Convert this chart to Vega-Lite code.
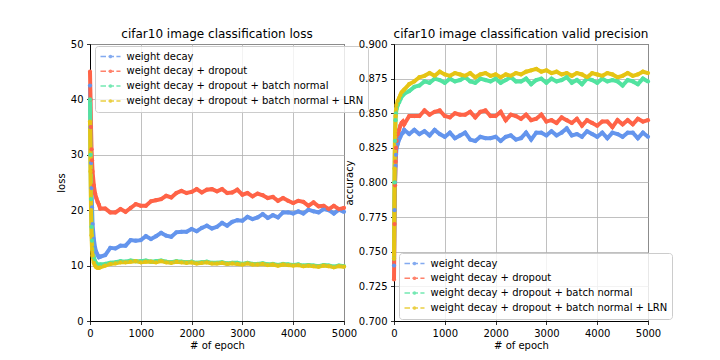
{
  "$schema": "https://vega.github.io/schema/vega-lite/v6.json",
  "background": "white",
  "padding": {"left": 55, "top": 27, "right": 5, "bottom": 5},
  "config": {
    "font": "DejaVu Sans",
    "view": {"stroke": "black", "strokeWidth": 1},
    "axis": {"domainColor": "black", "domainWidth": 1, "tickColor": "black", "tickSize": 3.5, "tickWidth": 0.8, "labelColor": "black", "labelFont": "DejaVu Sans", "labelFontSize": 10, "labelPadding": 3.5, "labelFlush": false, "labelOverlap": false, "titleFont": "DejaVu Sans", "titleFontSize": 10, "titleFontWeight": "normal", "titleColor": "black", "titlePadding": 4, "gridColor": "#b0b0b0", "gridWidth": 0.8},
    "axisX": {"titlePadding": 2},
    "title": {"font": "DejaVu Sans", "fontSize": 12, "fontWeight": "normal", "color": "black", "offset": -2, "anchor": "middle"},
    "legend": {"orient": "none", "title": null, "fillColor": "rgba(255,255,255,0.8)", "strokeColor": "#cccccc", "cornerRadius": 3, "padding": 4.5, "labelFont": "DejaVu Sans", "labelFontSize": 10, "labelColor": "black", "labelLimit": 400, "symbolType": "M-1,0H-0.45M-0.21,0H0.35M0.59,0H1M-0.1,0A0.1,0.1 0 1,0 0.1,0A0.1,0.1 0 1,0 -0.1,0", "symbolSize": 400, "symbolStrokeWidth": 1.5, "symbolOpacity": 0.8, "clipHeight": 12, "rowPadding": 2.8, "labelOffset": 5}
  },
  "hconcat": [
    {
      "width": 254, "height": 277,
      "title": "cifar10 image classification loss",
      "data": {"values": [
        {"s":"a","x":0,"y":42.5},{"s":"a","x":10,"y":35},{"s":"a","x":20,"y":28.5},{"s":"a","x":30,"y":24},{"s":"a","x":40,"y":20.5},{"s":"a","x":50,"y":17.5},{"s":"a","x":75,"y":14.8},{"s":"a","x":100,"y":13.2},{"s":"a","x":125,"y":12.4},{"s":"a","x":150,"y":11.9},{"s":"a","x":175,"y":11.5},
        {"s":"a","x":200,"y":11.6},{"s":"a","x":300,"y":11.9},{"s":"a","x":400,"y":13.2},{"s":"a","x":500,"y":13.1},{"s":"a","x":600,"y":13.6},{"s":"a","x":700,"y":13.6},{"s":"a","x":800,"y":14.6},{"s":"a","x":900,"y":14.5},{"s":"a","x":1000,"y":14.6},{"s":"a","x":1100,"y":15.3},{"s":"a","x":1200,"y":14.8},{"s":"a","x":1300,"y":15.3},{"s":"a","x":1400,"y":15.9},{"s":"a","x":1500,"y":15.4},{"s":"a","x":1600,"y":15.2},{"s":"a","x":1700,"y":16.0},{"s":"a","x":1800,"y":16.1},{"s":"a","x":1900,"y":16.1},{"s":"a","x":2000,"y":16.6},{"s":"a","x":2100,"y":16.2},{"s":"a","x":2200,"y":16.8},{"s":"a","x":2300,"y":17.2},{"s":"a","x":2400,"y":16.7},{"s":"a","x":2500,"y":17.0},{"s":"a","x":2600,"y":17.7},{"s":"a","x":2700,"y":17.2},{"s":"a","x":2800,"y":17.9},{"s":"a","x":2900,"y":18.2},{"s":"a","x":3000,"y":18.1},{"s":"a","x":3100,"y":18.8},{"s":"a","x":3200,"y":18.4},{"s":"a","x":3300,"y":18.7},{"s":"a","x":3400,"y":19.3},{"s":"a","x":3500,"y":18.6},{"s":"a","x":3600,"y":19.1},{"s":"a","x":3700,"y":18.7},{"s":"a","x":3800,"y":19.6},{"s":"a","x":3900,"y":19.6},{"s":"a","x":4000,"y":19.4},{"s":"a","x":4100,"y":19.8},{"s":"a","x":4200,"y":19.4},{"s":"a","x":4300,"y":20.1},{"s":"a","x":4400,"y":19.8},{"s":"a","x":4500,"y":19.6},{"s":"a","x":4600,"y":20.2},{"s":"a","x":4700,"y":20.0},{"s":"a","x":4800,"y":19.4},{"s":"a","x":4900,"y":20.1},{"s":"a","x":5000,"y":19.7},
        {"s":"b","x":0,"y":45},{"s":"b","x":10,"y":40},{"s":"b","x":20,"y":35},{"s":"b","x":30,"y":31},{"s":"b","x":40,"y":29},{"s":"b","x":50,"y":27},{"s":"b","x":75,"y":24.5},{"s":"b","x":100,"y":23},{"s":"b","x":125,"y":22.2},{"s":"b","x":150,"y":21.5},{"s":"b","x":175,"y":21.0},
        {"s":"b","x":200,"y":20.3},{"s":"b","x":300,"y":20.3},{"s":"b","x":400,"y":19.6},{"s":"b","x":500,"y":19.6},{"s":"b","x":600,"y":20.2},{"s":"b","x":700,"y":19.7},{"s":"b","x":800,"y":20.4},{"s":"b","x":900,"y":21.1},{"s":"b","x":1000,"y":20.8},{"s":"b","x":1100,"y":20.8},{"s":"b","x":1200,"y":21.6},{"s":"b","x":1300,"y":21.8},{"s":"b","x":1400,"y":22.0},{"s":"b","x":1500,"y":22.6},{"s":"b","x":1600,"y":22.3},{"s":"b","x":1700,"y":23.1},{"s":"b","x":1800,"y":23.5},{"s":"b","x":1900,"y":23.1},{"s":"b","x":2000,"y":23.3},{"s":"b","x":2100,"y":23.8},{"s":"b","x":2200,"y":23.2},{"s":"b","x":2300,"y":23.7},{"s":"b","x":2400,"y":23.8},{"s":"b","x":2500,"y":23.4},{"s":"b","x":2600,"y":23.8},{"s":"b","x":2700,"y":23.1},{"s":"b","x":2800,"y":23.2},{"s":"b","x":2900,"y":23.7},{"s":"b","x":3000,"y":22.8},{"s":"b","x":3100,"y":23.1},{"s":"b","x":3200,"y":22.5},{"s":"b","x":3300,"y":23.0},{"s":"b","x":3400,"y":22.7},{"s":"b","x":3500,"y":22.2},{"s":"b","x":3600,"y":22.4},{"s":"b","x":3700,"y":21.7},{"s":"b","x":3800,"y":22.2},{"s":"b","x":3900,"y":21.7},{"s":"b","x":4000,"y":21.3},{"s":"b","x":4100,"y":21.7},{"s":"b","x":4200,"y":21.5},{"s":"b","x":4300,"y":20.8},{"s":"b","x":4400,"y":21.4},{"s":"b","x":4500,"y":20.7},{"s":"b","x":4600,"y":20.8},{"s":"b","x":4700,"y":20.2},{"s":"b","x":4800,"y":20.8},{"s":"b","x":4900,"y":20.2},{"s":"b","x":5000,"y":20.4},
        {"s":"c","x":0,"y":40},{"s":"c","x":10,"y":30},{"s":"c","x":20,"y":22},{"s":"c","x":30,"y":17},{"s":"c","x":40,"y":14.5},{"s":"c","x":50,"y":13},{"s":"c","x":75,"y":11.5},{"s":"c","x":100,"y":10.8},{"s":"c","x":125,"y":10.4},{"s":"c","x":150,"y":10.2},{"s":"c","x":175,"y":10.1},
        {"s":"c","x":200,"y":10.2},{"s":"c","x":300,"y":10.3},{"s":"c","x":400,"y":10.5},{"s":"c","x":500,"y":10.6},{"s":"c","x":600,"y":10.8},{"s":"c","x":700,"y":10.7},{"s":"c","x":800,"y":10.9},{"s":"c","x":900,"y":10.8},{"s":"c","x":1000,"y":10.8},{"s":"c","x":1100,"y":10.9},{"s":"c","x":1200,"y":10.7},{"s":"c","x":1300,"y":10.8},{"s":"c","x":1400,"y":10.9},{"s":"c","x":1500,"y":10.7},{"s":"c","x":1600,"y":10.6},{"s":"c","x":1700,"y":10.8},{"s":"c","x":1800,"y":10.7},{"s":"c","x":1900,"y":10.6},{"s":"c","x":2000,"y":10.7},{"s":"c","x":2100,"y":10.5},{"s":"c","x":2200,"y":10.6},{"s":"c","x":2300,"y":10.7},{"s":"c","x":2400,"y":10.5},{"s":"c","x":2500,"y":10.5},{"s":"c","x":2600,"y":10.6},{"s":"c","x":2700,"y":10.4},{"s":"c","x":2800,"y":10.5},{"s":"c","x":2900,"y":10.5},{"s":"c","x":3000,"y":10.3},{"s":"c","x":3100,"y":10.5},{"s":"c","x":3200,"y":10.3},{"s":"c","x":3300,"y":10.3},{"s":"c","x":3400,"y":10.4},{"s":"c","x":3500,"y":10.2},{"s":"c","x":3600,"y":10.3},{"s":"c","x":3700,"y":10.1},{"s":"c","x":3800,"y":10.3},{"s":"c","x":3900,"y":10.2},{"s":"c","x":4000,"y":10.1},{"s":"c","x":4100,"y":10.2},{"s":"c","x":4200,"y":10.0},{"s":"c","x":4300,"y":10.1},{"s":"c","x":4400,"y":10.0},{"s":"c","x":4500,"y":9.9},{"s":"c","x":4600,"y":10.1},{"s":"c","x":4700,"y":10.0},{"s":"c","x":4800,"y":9.8},{"s":"c","x":4900,"y":10.0},{"s":"c","x":5000,"y":9.9},
        {"s":"d","x":0,"y":36},{"s":"d","x":10,"y":27},{"s":"d","x":20,"y":20},{"s":"d","x":30,"y":15.5},{"s":"d","x":40,"y":13},{"s":"d","x":50,"y":11.8},{"s":"d","x":75,"y":10.5},{"s":"d","x":100,"y":10.0},{"s":"d","x":125,"y":9.7},{"s":"d","x":150,"y":9.6},{"s":"d","x":175,"y":9.6},
        {"s":"d","x":200,"y":9.7},{"s":"d","x":300,"y":10.0},{"s":"d","x":400,"y":10.3},{"s":"d","x":500,"y":10.4},{"s":"d","x":600,"y":10.6},{"s":"d","x":700,"y":10.6},{"s":"d","x":800,"y":10.7},{"s":"d","x":900,"y":10.8},{"s":"d","x":1000,"y":10.6},{"s":"d","x":1100,"y":10.7},{"s":"d","x":1200,"y":10.7},{"s":"d","x":1300,"y":10.6},{"s":"d","x":1400,"y":10.8},{"s":"d","x":1500,"y":10.6},{"s":"d","x":1600,"y":10.5},{"s":"d","x":1700,"y":10.7},{"s":"d","x":1800,"y":10.6},{"s":"d","x":1900,"y":10.5},{"s":"d","x":2000,"y":10.6},{"s":"d","x":2100,"y":10.4},{"s":"d","x":2200,"y":10.5},{"s":"d","x":2300,"y":10.6},{"s":"d","x":2400,"y":10.4},{"s":"d","x":2500,"y":10.4},{"s":"d","x":2600,"y":10.5},{"s":"d","x":2700,"y":10.3},{"s":"d","x":2800,"y":10.4},{"s":"d","x":2900,"y":10.3},{"s":"d","x":3000,"y":10.2},{"s":"d","x":3100,"y":10.4},{"s":"d","x":3200,"y":10.2},{"s":"d","x":3300,"y":10.2},{"s":"d","x":3400,"y":10.3},{"s":"d","x":3500,"y":10.1},{"s":"d","x":3600,"y":10.2},{"s":"d","x":3700,"y":10.0},{"s":"d","x":3800,"y":10.2},{"s":"d","x":3900,"y":10.1},{"s":"d","x":4000,"y":10.0},{"s":"d","x":4100,"y":10.1},{"s":"d","x":4200,"y":9.9},{"s":"d","x":4300,"y":10.0},{"s":"d","x":4400,"y":9.9},{"s":"d","x":4500,"y":9.8},{"s":"d","x":4600,"y":10.0},{"s":"d","x":4700,"y":9.9},{"s":"d","x":4800,"y":9.7},{"s":"d","x":4900,"y":9.9},{"s":"d","x":5000,"y":9.8}
      ]},
      "encoding": {
        "x": {"field": "x", "type": "quantitative", "scale": {"domain": [0, 5000], "nice": false}, "axis": {"title": "# of epoch", "values": [0,1000,2000,3000,4000,5000], "format": "d"}},
        "y": {"field": "y", "type": "quantitative", "scale": {"domain": [0, 50], "nice": false}, "axis": {"title": "loss", "values": [0,10,20,30,40,50], "format": "d"}},
        "color": {"field": "s", "type": "nominal", "scale": {"domain": ["a","b","c","d"], "range": ["#6495ED","#FF6347","#52E3A0","#E6C414"]}, "legend": {"legendX": 5, "legendY": 2, "labelExpr": "datum.label == 'a' ? 'weight decay' : datum.label == 'b' ? 'weight decay + dropout' : datum.label == 'c' ? 'weight decay + dropout + batch normal' : 'weight decay + dropout + batch normal + LRN'"}}
      },
      "layer": [
        {"mark": {"type": "line", "strokeWidth": 4}},
        {"mark": {"type": "circle", "size": 18, "opacity": 1}}
      ]
    },
    {
      "width": 254, "height": 277,
      "title": "cifar10 image classification valid precision",
      "data": {"values": [
        {"s":"a","x":0,"y":0.74},{"s":"a","x":10,"y":0.78},{"s":"a","x":20,"y":0.80},{"s":"a","x":30,"y":0.812},{"s":"a","x":40,"y":0.82},{"s":"a","x":50,"y":0.825},{"s":"a","x":75,"y":0.828},{"s":"a","x":100,"y":0.831},{"s":"a","x":125,"y":0.833},{"s":"a","x":150,"y":0.835},{"s":"a","x":175,"y":0.836},
        {"s":"a","x":200,"y":0.838},{"s":"a","x":300,"y":0.835},{"s":"a","x":400,"y":0.838},{"s":"a","x":500,"y":0.835},{"s":"a","x":600,"y":0.837},{"s":"a","x":700,"y":0.834},{"s":"a","x":800,"y":0.838},{"s":"a","x":900,"y":0.835},{"s":"a","x":1000,"y":0.833},{"s":"a","x":1100,"y":0.836},{"s":"a","x":1200,"y":0.832},{"s":"a","x":1300,"y":0.834},{"s":"a","x":1400,"y":0.836},{"s":"a","x":1500,"y":0.831},{"s":"a","x":1600,"y":0.830},{"s":"a","x":1700,"y":0.833},{"s":"a","x":1800,"y":0.832},{"s":"a","x":1900,"y":0.832},{"s":"a","x":2000,"y":0.833},{"s":"a","x":2100,"y":0.830},{"s":"a","x":2200,"y":0.833},{"s":"a","x":2300,"y":0.834},{"s":"a","x":2400,"y":0.831},{"s":"a","x":2500,"y":0.832},{"s":"a","x":2600,"y":0.836},{"s":"a","x":2700,"y":0.831},{"s":"a","x":2800,"y":0.836},{"s":"a","x":2900,"y":0.836},{"s":"a","x":3000,"y":0.834},{"s":"a","x":3100,"y":0.837},{"s":"a","x":3200,"y":0.834},{"s":"a","x":3300,"y":0.836},{"s":"a","x":3400,"y":0.839},{"s":"a","x":3500,"y":0.834},{"s":"a","x":3600,"y":0.835},{"s":"a","x":3700,"y":0.833},{"s":"a","x":3800,"y":0.837},{"s":"a","x":3900,"y":0.835},{"s":"a","x":4000,"y":0.833},{"s":"a","x":4100,"y":0.836},{"s":"a","x":4200,"y":0.832},{"s":"a","x":4300,"y":0.836},{"s":"a","x":4400,"y":0.835},{"s":"a","x":4500,"y":0.833},{"s":"a","x":4600,"y":0.836},{"s":"a","x":4700,"y":0.836},{"s":"a","x":4800,"y":0.832},{"s":"a","x":4900,"y":0.836},{"s":"a","x":5000,"y":0.833},
        {"s":"b","x":0,"y":0.73},{"s":"b","x":10,"y":0.77},{"s":"b","x":20,"y":0.798},{"s":"b","x":30,"y":0.815},{"s":"b","x":40,"y":0.825},{"s":"b","x":50,"y":0.83},{"s":"b","x":75,"y":0.835},{"s":"b","x":100,"y":0.838},{"s":"b","x":125,"y":0.841},{"s":"b","x":150,"y":0.843},{"s":"b","x":175,"y":0.844},
        {"s":"b","x":200,"y":0.842},{"s":"b","x":300,"y":0.848},{"s":"b","x":400,"y":0.848},{"s":"b","x":500,"y":0.848},{"s":"b","x":600,"y":0.852},{"s":"b","x":700,"y":0.849},{"s":"b","x":800,"y":0.851},{"s":"b","x":900,"y":0.852},{"s":"b","x":1000,"y":0.848},{"s":"b","x":1100,"y":0.847},{"s":"b","x":1200,"y":0.850},{"s":"b","x":1300,"y":0.849},{"s":"b","x":1400,"y":0.849},{"s":"b","x":1500,"y":0.851},{"s":"b","x":1600,"y":0.847},{"s":"b","x":1700,"y":0.851},{"s":"b","x":1800,"y":0.852},{"s":"b","x":1900,"y":0.848},{"s":"b","x":2000,"y":0.848},{"s":"b","x":2100,"y":0.851},{"s":"b","x":2200,"y":0.845},{"s":"b","x":2300,"y":0.849},{"s":"b","x":2400,"y":0.848},{"s":"b","x":2500,"y":0.846},{"s":"b","x":2600,"y":0.849},{"s":"b","x":2700,"y":0.845},{"s":"b","x":2800,"y":0.846},{"s":"b","x":2900,"y":0.849},{"s":"b","x":3000,"y":0.844},{"s":"b","x":3100,"y":0.845},{"s":"b","x":3200,"y":0.843},{"s":"b","x":3300,"y":0.847},{"s":"b","x":3400,"y":0.845},{"s":"b","x":3500,"y":0.843},{"s":"b","x":3600,"y":0.846},{"s":"b","x":3700,"y":0.841},{"s":"b","x":3800,"y":0.845},{"s":"b","x":3900,"y":0.843},{"s":"b","x":4000,"y":0.841},{"s":"b","x":4100,"y":0.844},{"s":"b","x":4200,"y":0.844},{"s":"b","x":4300,"y":0.840},{"s":"b","x":4400,"y":0.845},{"s":"b","x":4500,"y":0.842},{"s":"b","x":4600,"y":0.845},{"s":"b","x":4700,"y":0.842},{"s":"b","x":4800,"y":0.846},{"s":"b","x":4900,"y":0.844},{"s":"b","x":5000,"y":0.845},
        {"s":"c","x":0,"y":0.745},{"s":"c","x":10,"y":0.80},{"s":"c","x":20,"y":0.83},{"s":"c","x":30,"y":0.845},{"s":"c","x":40,"y":0.85},{"s":"c","x":50,"y":0.853},{"s":"c","x":75,"y":0.856},{"s":"c","x":100,"y":0.858},{"s":"c","x":125,"y":0.86},{"s":"c","x":150,"y":0.862},{"s":"c","x":175,"y":0.863},
        {"s":"c","x":200,"y":0.864},{"s":"c","x":300,"y":0.866},{"s":"c","x":400,"y":0.869},{"s":"c","x":500,"y":0.870},{"s":"c","x":600,"y":0.873},{"s":"c","x":700,"y":0.872},{"s":"c","x":800,"y":0.875},{"s":"c","x":900,"y":0.874},{"s":"c","x":1000,"y":0.872},{"s":"c","x":1100,"y":0.875},{"s":"c","x":1200,"y":0.873},{"s":"c","x":1300,"y":0.874},{"s":"c","x":1400,"y":0.876},{"s":"c","x":1500,"y":0.873},{"s":"c","x":1600,"y":0.872},{"s":"c","x":1700,"y":0.875},{"s":"c","x":1800,"y":0.874},{"s":"c","x":1900,"y":0.873},{"s":"c","x":2000,"y":0.875},{"s":"c","x":2100,"y":0.872},{"s":"c","x":2200,"y":0.874},{"s":"c","x":2300,"y":0.876},{"s":"c","x":2400,"y":0.873},{"s":"c","x":2500,"y":0.873},{"s":"c","x":2600,"y":0.875},{"s":"c","x":2700,"y":0.871},{"s":"c","x":2800,"y":0.874},{"s":"c","x":2900,"y":0.875},{"s":"c","x":3000,"y":0.872},{"s":"c","x":3100,"y":0.875},{"s":"c","x":3200,"y":0.873},{"s":"c","x":3300,"y":0.874},{"s":"c","x":3400,"y":0.876},{"s":"c","x":3500,"y":0.872},{"s":"c","x":3600,"y":0.874},{"s":"c","x":3700,"y":0.871},{"s":"c","x":3800,"y":0.875},{"s":"c","x":3900,"y":0.874},{"s":"c","x":4000,"y":0.872},{"s":"c","x":4100,"y":0.875},{"s":"c","x":4200,"y":0.873},{"s":"c","x":4300,"y":0.874},{"s":"c","x":4400,"y":0.873},{"s":"c","x":4500,"y":0.870},{"s":"c","x":4600,"y":0.874},{"s":"c","x":4700,"y":0.873},{"s":"c","x":4800,"y":0.871},{"s":"c","x":4900,"y":0.875},{"s":"c","x":5000,"y":0.873},
        {"s":"d","x":0,"y":0.745},{"s":"d","x":10,"y":0.81},{"s":"d","x":20,"y":0.835},{"s":"d","x":30,"y":0.848},{"s":"d","x":40,"y":0.853},{"s":"d","x":50,"y":0.856},{"s":"d","x":75,"y":0.859},{"s":"d","x":100,"y":0.861},{"s":"d","x":125,"y":0.863},{"s":"d","x":150,"y":0.865},{"s":"d","x":175,"y":0.866},
        {"s":"d","x":200,"y":0.867},{"s":"d","x":300,"y":0.871},{"s":"d","x":400,"y":0.873},{"s":"d","x":500,"y":0.876},{"s":"d","x":600,"y":0.877},{"s":"d","x":700,"y":0.879},{"s":"d","x":800,"y":0.877},{"s":"d","x":900,"y":0.880},{"s":"d","x":1000,"y":0.878},{"s":"d","x":1100,"y":0.877},{"s":"d","x":1200,"y":0.879},{"s":"d","x":1300,"y":0.878},{"s":"d","x":1400,"y":0.877},{"s":"d","x":1500,"y":0.879},{"s":"d","x":1600,"y":0.876},{"s":"d","x":1700,"y":0.878},{"s":"d","x":1800,"y":0.879},{"s":"d","x":1900,"y":0.877},{"s":"d","x":2000,"y":0.878},{"s":"d","x":2100,"y":0.876},{"s":"d","x":2200,"y":0.878},{"s":"d","x":2300,"y":0.877},{"s":"d","x":2400,"y":0.879},{"s":"d","x":2500,"y":0.878},{"s":"d","x":2600,"y":0.880},{"s":"d","x":2700,"y":0.881},{"s":"d","x":2800,"y":0.882},{"s":"d","x":2900,"y":0.880},{"s":"d","x":3000,"y":0.881},{"s":"d","x":3100,"y":0.879},{"s":"d","x":3200,"y":0.880},{"s":"d","x":3300,"y":0.878},{"s":"d","x":3400,"y":0.879},{"s":"d","x":3500,"y":0.877},{"s":"d","x":3600,"y":0.879},{"s":"d","x":3700,"y":0.878},{"s":"d","x":3800,"y":0.876},{"s":"d","x":3900,"y":0.879},{"s":"d","x":4000,"y":0.878},{"s":"d","x":4100,"y":0.877},{"s":"d","x":4200,"y":0.879},{"s":"d","x":4300,"y":0.878},{"s":"d","x":4400,"y":0.876},{"s":"d","x":4500,"y":0.877},{"s":"d","x":4600,"y":0.879},{"s":"d","x":4700,"y":0.877},{"s":"d","x":4800,"y":0.878},{"s":"d","x":4900,"y":0.880},{"s":"d","x":5000,"y":0.879}
      ]},
      "encoding": {
        "x": {"field": "x", "type": "quantitative", "scale": {"domain": [0, 5000], "nice": false}, "axis": {"title": "# of epoch", "values": [0,1000,2000,3000,4000,5000], "format": "d"}},
        "y": {"field": "y", "type": "quantitative", "scale": {"domain": [0.7, 0.9], "nice": false, "zero": false}, "axis": {"title": "accuracy", "values": [0.7,0.725,0.75,0.775,0.8,0.825,0.85,0.875,0.9], "format": ".3f"}},
        "color": {"field": "s", "type": "nominal", "scale": {"domain": ["a","b","c","d"], "range": ["#6495ED","#FF6347","#52E3A0","#E6C414"]}, "legend": {"legendX": 5, "legendY": 209, "labelExpr": "datum.label == 'a' ? 'weight decay' : datum.label == 'b' ? 'weight decay + dropout' : datum.label == 'c' ? 'weight decay + dropout + batch normal' : 'weight decay + dropout + batch normal + LRN'"}}
      },
      "layer": [
        {"mark": {"type": "line", "strokeWidth": 4}},
        {"mark": {"type": "circle", "size": 18, "opacity": 1}}
      ]
    }
  ],
  "spacing": 50,
  "bounds": "flush",
  "resolve": {"scale": {"color": "independent", "x": "independent", "y": "independent"}, "legend": {"color": "independent"}}
}
